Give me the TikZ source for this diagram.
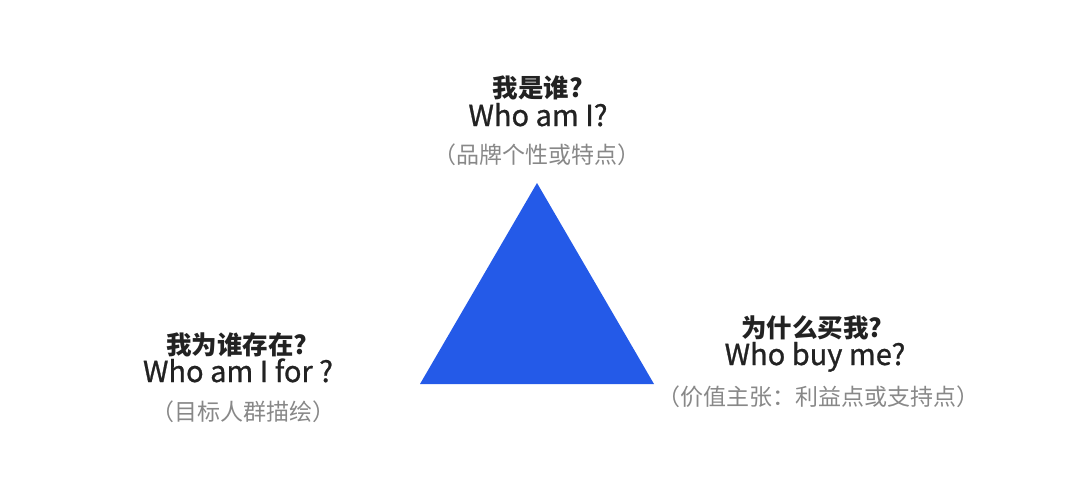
\documentclass[tikz,border=0pt]{standalone}
\usepackage{fontspec}
\setmainfont{Noto Sans CJK SC}
\newfontfamily\enfont[FakeBold=0.9]{Noto Sans CJK SC}
\usetikzlibrary{positioning}
\definecolor{brandblue}{RGB}{36, 90, 232}
\definecolor{darktext}{RGB}{34, 34, 34}
\definecolor{graytext}{RGB}{136, 136, 136}

\begin{document}
\begin{tikzpicture}[
    x=1pt, y=-1pt,
    question/.style={font=\fontsize{25.5}{25.5}\selectfont\bfseries, text=darktext, inner sep=0pt, text depth=0pt, anchor=base},
    english/.style={font=\enfont\fontsize{29}{29}\selectfont, text=darktext, inner sep=0pt, anchor=base},
    note/.style={font=\fontsize{23}{23}\selectfont, text=graytext, inner sep=0pt, anchor=base}
]
\useasboundingbox (0,0) rectangle (1080,495);

% Triangle
\coordinate (apex) at (537,183);
\coordinate (base_left) at (420,384);
\coordinate (base_right) at (654,384);
\fill [brandblue] (apex) -- (base_left) -- (base_right) -- cycle;

% Top: brand identity
\node (identity_cn) [question] at (538,98) {我是谁?};
\node (identity_en) [english] at (538,126) {Who am I?};
\node (identity_note) [note] at (537,164) {（品牌个性或特点）};

% Left: target audience
\node (audience_cn) [question] at (237,354) {我为谁存在?};
\node (audience_en) [english] at (238,382) {Who am I for ?};
\node (audience_note) [note] at (243,420) {（目标人群描绘）};

% Right: value proposition
\node (value_cn) [question] at (812,337) {为什么买我?};
\node (value_en) [english] at (815,365) {Who buy me?};
\node (value_note) [note] at (818,405) {（价值主张：利益点或支持点）};

\end{tikzpicture}
\end{document}
